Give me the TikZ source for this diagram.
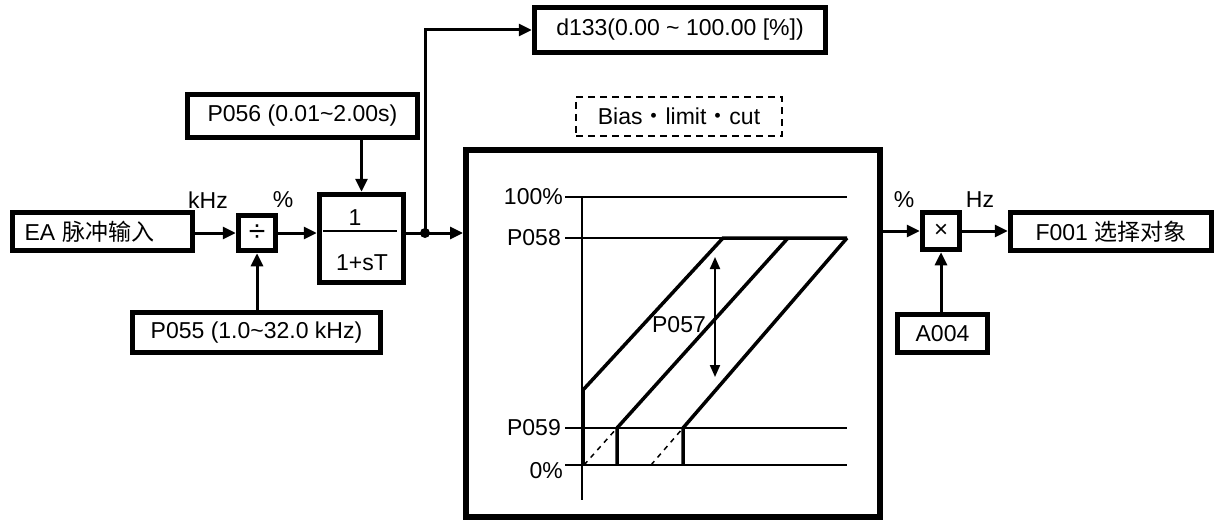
\documentclass[tikz,border=0pt]{standalone}
\usepackage{fontspec}
\setmainfont{Liberation Sans}
\newfontfamily\cjk{Noto Sans CJK SC}
\usetikzlibrary{arrows.meta}
\begin{document}
\begin{tikzpicture}[x=1pt,y=-1pt,
  font=\fontsize{23}{27}\selectfont,
  blk/.style={draw,line width=5.5pt,inner sep=0pt,rectangle},
  conn/.style={line width=3pt,-{Triangle[length=13pt,width=12pt]}},
  thinline/.style={line width=1.5pt},
  curve/.style={line width=3.5pt,line join=miter},
  lbl/.style={inner sep=0pt}]
\useasboundingbox (0,0) rectangle (1218,524);
% blocks
\node[blk,minimum width=180pt,minimum height=38pt,text width=156pt,inner xsep=12pt,align=left] (ea) at (102.5,231.5) {EA {\cjk 脉冲输入}};
\node[blk,minimum width=37pt,minimum height=35pt] (div) at (257,233) {\fontsize{30}{30}\selectfont ÷};
\node[blk,minimum width=84pt,minimum height=88pt] (tf) at (361.5,238.5) {};
\node[lbl] (num) at (355,218) {1};
\node[lbl] (den) at (362,263) {1+sT};
\coordinate (fl) at (323,231);
\coordinate (fr) at (397,231);
\draw[thinline] (fl) -- (fr);
\node[blk,minimum width=230pt,minimum height=43pt] (p056) at (302.5,116) {P056 (0.01\textasciitilde 2.00s)};
\node[blk,minimum width=248pt,minimum height=40pt] (p055) at (256.5,332.5) {P055 (1.0\textasciitilde 32.0 kHz)};
\node[blk,minimum width=291pt,minimum height=45pt] (d133) at (680,30) {d133(0.00 \textasciitilde\ 100.00 [\%])};
\node[draw,line width=2.5pt,dash pattern=on 7pt off 5pt,minimum width=206pt,minimum height=39pt,inner sep=0pt] (bias) at (679,116.5) {Bias{\cjk ・}limit{\cjk ・}cut};
\node[blk,line width=6pt,minimum width=414pt,minimum height=367pt] (big) at (673,333.5) {};
\node[blk,minimum width=37pt,minimum height=37pt] (mul) at (941,231) {\fontsize{24}{24}\selectfont ×};
\node[blk,minimum width=201pt,minimum height=38pt] (f001) at (1111,231.5) {F001 {\cjk 选择对象}};
\node[blk,minimum width=90pt,minimum height=38pt] (a004) at (942.5,333.5) {A004};
% unit labels
\node[lbl] (ukhz) at (208,200) {kHz};
\node[lbl] (upc1) at (283,200) {\%};
\node[lbl] (upc2) at (904,200) {\%};
\node[lbl] (uhz) at (980,200) {Hz};
% connectors
\draw[conn] (ea.east |- div.west) -- (div.west);
\draw[conn] (div.east) -- (div.east -| tf.west);
\draw[conn] (p055.north -| div.south) -- (div.south);
\draw[conn] (p056.south -| tf.north) -- (tf.north);
\coordinate (j) at (425,233);
\draw[line width=3pt] (div.east -| tf.east) -- (j);
\fill (j) circle (5pt);
\draw[conn] (j) -- (j -| big.west);
\draw[conn] (j) |- (d133.west);
\draw[conn] (big.east |- mul.west) -- (mul.west);
\draw[conn] (mul.east) -- (mul.east -| f001.west);
\draw[conn] (a004.north -| mul.south) -- (mul.south);
% graph
\draw[thinline] (565,197) -- (847,197);
\draw[thinline] (565,238) -- (847,238);
\draw[thinline] (565,428) -- (847,428);
\draw[thinline] (565,465) -- (847,465);
\draw[thinline] (582,198) -- (582,500);
\node[lbl,anchor=east] (l100) at (563,197) {100\%};
\node[lbl,anchor=east] (l58) at (561,238) {P058};
\node[lbl,anchor=east] (l59) at (561,428) {P059};
\node[lbl,anchor=east] (l0) at (563,471) {0\%};
\draw[curve] (583,465) -- (583,390) -- (723,238) -- (847,238);
\draw[curve] (617,465) -- (617,428) -- (788,238);
\draw[curve] (683,465) -- (683,428) -- (847,238);
\draw[thinline,dash pattern=on 5pt off 5pt] (584,465) -- (617,428);
\draw[thinline,dash pattern=on 5pt off 5pt] (651,465) -- (683,428);
\draw[line width=2pt,{Triangle[length=12pt,width=10pt]}-{Triangle[length=12pt,width=10pt]}] (715,257) -- (715,377);
\node[lbl] (p057) at (679,325) {P057};
\end{tikzpicture}
\end{document}
